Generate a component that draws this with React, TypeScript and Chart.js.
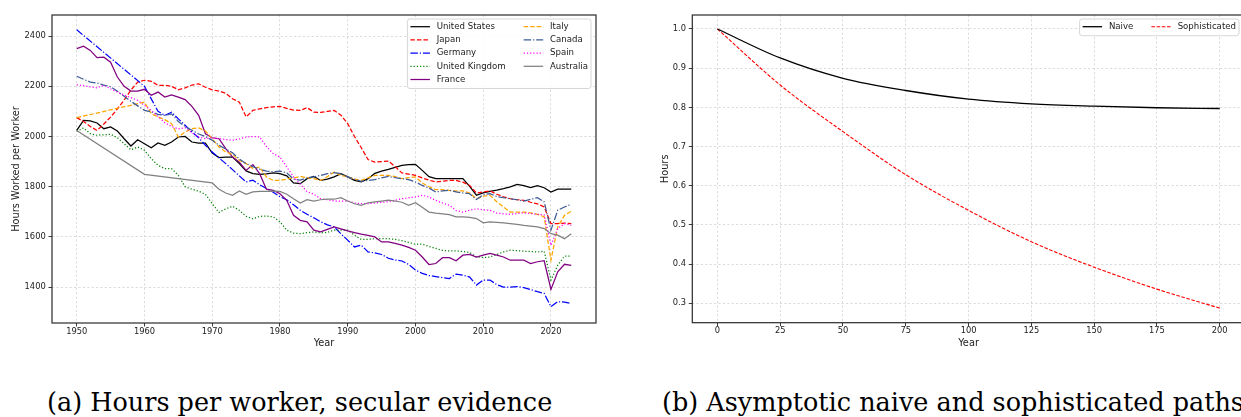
import React, { useEffect, useRef } from 'react';
import { Chart, registerables } from 'chart.js';

Chart.register(...registerables);

// ---------------- data: panel (a) ----------------
const years: number[] = Array.from({ length: 74 }, (_, i) => 1950 + i);

const unitedStates = [
  2024, 2064, 2062, 2054, 2031, 2038, 2022, 1991, 1962, 1987,
  1971, 1955, 1974, 1965, 1978, 1998, 2000, 1978, 1974, 1974,
  1934, 1916, 1918, 1918, 1892, 1863, 1852, 1849, 1851, 1855,
  1852, 1843, 1815, 1812, 1832, 1841, 1825, 1830, 1839, 1852,
  1839, 1825, 1819, 1832, 1853, 1862, 1869, 1877, 1885, 1888,
  1889, 1865, 1840, 1832, 1832, 1832, 1832, 1832, 1801, 1766,
  1775, 1781, 1786, 1792, 1799, 1809, 1804, 1796, 1804, 1796,
  1779, 1790, 1790, 1790,
];
const japan = [
  2075, 2060, 2040, 2024, 2050, 2077, 2110, 2145, 2185, 2217,
  2224, 2220, 2204, 2204, 2200, 2186, 2194, 2205, 2210, 2196,
  2186, 2181, 2172, 2150, 2137, 2078, 2104, 2110, 2115, 2118,
  2120, 2112, 2105, 2104, 2115, 2097, 2096, 2100, 2104, 2085,
  2051, 2000, 1955, 1908, 1898, 1900, 1902, 1880, 1855, 1850,
  1845, 1835, 1826, 1819, 1822, 1825, 1825, 1818, 1805, 1775,
  1779, 1783, 1770, 1760, 1752, 1748, 1746, 1738, 1732, 1719,
  1653, 1653, 1655, 1653,
];
const germany = [
  2425, null, null, null, null, null, null, null, null, null,
  2200, 2150, 2100, 2084, 2097, 2070, 2045, 2018, 1995, 1965,
  1938, 1915, 1892, 1868, 1843, 1819, 1826, 1808, 1793, 1778,
  1760, 1748, 1728, 1706, 1690, 1676, 1660, 1648, 1640, 1612,
  1587, 1560, 1567, 1540, 1536, 1530, 1515, 1508, 1504, 1490,
  1468, 1455, 1446, 1442, 1438, 1434, 1452, 1448, 1440, 1408,
  1428, 1428, 1410, 1400, 1400, 1402, 1398, 1390, 1382, 1375,
  1322, 1342, 1340, 1335,
];
const unitedKingdom = [
  2020, 2034, 2011, 2005, 2007, 2009, 1995, 1971, 1947, 1958,
  1945, 1912, 1885, 1872, 1872, 1845, 1800, 1790, 1782, 1770,
  1732, 1697, 1712, 1722, 1706, 1682, 1672, 1682, 1683, 1680,
  1660, 1627, 1615, 1613, 1617, 1620, 1616, 1618, 1627, 1627,
  1627, 1607, 1590, 1590, 1593, 1593, 1593, 1590, 1585, 1578,
  1571, 1571, 1562, 1554, 1546, 1544, 1544, 1542, 1538, 1520,
  1518, 1520, 1530, 1540, 1547, 1545, 1543, 1542, 1540, 1543,
  1428, 1487, 1523, 1523,
];
const france = [
  2350, 2360, 2343, 2314, 2316, 2296, 2237, 2200, 2181, 2181,
  2188, 2164, 2177, 2157, 2166, 2157, 2147, 2120, 2084, 2011,
  1995, 1991, 1952, 1918, 1898, 1865, 1888, 1852, 1790, 1785,
  1772, 1746, 1686, 1666, 1660, 1627, 1620, 1630, 1640, 1632,
  1624, 1617, 1611, 1606, 1600, 1580, 1580, 1574, 1567, 1558,
  1547, 1520, 1490, 1494, 1517, 1517, 1505, 1527, 1530, 1520,
  1527, 1534, 1527, 1520, 1507, 1507, 1507, 1494, 1501, 1505,
  1391, 1461, 1491, 1487,
];
const italy = [
  2075, null, null, null, null, null, null, null, null, null,
  2137, 2091, 2078, 2067, 2051, 1998, 2018, 2031, 2034, 2022,
  1991, 1958, 1938, 1929, 1905, 1892, 1872, 1878, 1839, 1825,
  1825, 1830, 1835, 1841, 1836, 1832, 1825, 1840, 1859, 1845,
  1839, 1830, 1825, 1835, 1845, 1845, 1845, 1840, 1832, 1836,
  1839, 1815, 1800, 1788, 1788, 1785, 1783, 1783, 1775, 1752,
  1762, 1766, 1740, 1719, 1699, 1699, 1699, 1696, 1690, 1680,
  1507, 1640, 1686, 1702,
];
const canada = [
  2240, 2228, 2217, 2213, 2205, 2198, 2180, 2160, 2140, 2122,
  2104, 2098, 2088, 2084, 2090, 2060, 2040, 2025, 2010, 2000,
  1985, 1965, 1950, 1935, 1910, 1892, 1880, 1870, 1862, 1860,
  1862, 1855, 1830, 1826, 1835, 1839, 1845, 1852, 1856, 1852,
  1839, 1830, 1821, 1825, 1828, 1835, 1841, 1836, 1832, 1828,
  1819, 1805, 1795, 1779, 1783, 1786, 1779, 1775, 1772, 1749,
  1768, 1772, 1761, 1756, 1752, 1748, 1743, 1750, 1756, 1740,
  1627, 1706, 1719, 1730,
];
const spain = [
  2206, 2203, 2198, 2194, 2204, 2190, 2177, 2165, 2155, 2144,
  2124, 2104, 2080, 2055, 2040, 2030, 2035, 2015, 1998, 1991,
  1995, 1991, 1988, 1985, 1990, 1998, 2000, 1998, 1960, 1932,
  1918, 1879, 1839, 1810, 1780, 1770, 1752, 1748, 1743, 1743,
  1743, 1735, 1733, 1732, 1735, 1738, 1740, 1746, 1752, 1756,
  1759, 1766, 1759, 1745, 1735, 1726, 1705, 1699, 1706, 1712,
  1708, 1706, 1695, 1692, 1690, 1693, 1696, 1693, 1690, 1688,
  1567, 1633, 1653, 1646,
];
const australia = [
  2024, null, null, null, null, null, null, null, null, null,
  1849, null, null, null, null, null, null, null, null, null,
  1815, 1790, 1775, 1766, 1783, 1770, 1779, 1781, 1781, 1782,
  1781, 1770, 1752, 1735, 1748, 1743, 1748, 1750, 1750, 1756,
  1743, 1732, 1726, 1736, 1740, 1743, 1746, 1743, 1738, 1726,
  1736, 1718, 1699, 1695, 1692, 1689, 1680, 1680, 1678, 1673,
  1656, 1660, 1658, 1656, 1653, 1650, 1646, 1643, 1640, 1633,
  1613, 1607, 1593, 1613,
];

const countryNames = [
  'United States', 'Japan', 'Germany', 'United Kingdom', 'France',
  'Italy', 'Canada', 'Spain', 'Australia',
];
const countrySeries = [
  unitedStates, japan, germany, unitedKingdom, france,
  italy, canada, spain, australia,
];
const yearTicks = [1950, 1960, 1970, 1980, 1990, 2000, 2010, 2020];
const hoursTicks = [1400, 1600, 1800, 2000, 2200, 2400];

// ---------------- data: panel (b) ----------------
const steps = [0, 25, 50, 75, 100, 125, 150, 175, 200];
const naive = [1.0, 0.926, 0.874, 0.843, 0.821, 0.809, 0.803, 0.799, 0.797];
const sophisticated = [1.0, 0.857, 0.738, 0.628, 0.537, 0.457, 0.392, 0.336, 0.2875];
const stepTicks = [0, 25, 50, 75, 100, 125, 150, 175, 200];
const shareTicks = [0.3, 0.4, 0.5, 0.6, 0.7, 0.8, 0.9, 1.0];

const captionA = '(a) Hours per worker, secular evidence';
const captionB = '(b) Asymptotic naive and sophisticated paths';

// ---------------- styles ----------------
const FONT = '"DejaVu Sans", sans-serif';
const TICK_FS = 8.3;
const LABEL_FS = 9.8;
const LEGEND_FS = 8.6;
const TEXT = '#222222';

const DASHED = [4.5, 2];
const DASHDOT = [7.5, 1.9, 1.2, 1.9];
const DOTTED = [1.2, 2];

const countryStyles = [
  { color: '#000000', dash: [] as number[] },
  { color: '#ff0000', dash: DASHED },
  { color: '#0000ff', dash: DASHDOT },
  { color: '#008000', dash: DOTTED },
  { color: '#800080', dash: [] as number[] },
  { color: '#ffa500', dash: DASHED },
  { color: '#3d5a96', dash: DASHDOT },
  { color: '#ff00ff', dash: DOTTED },
  { color: '#808080', dash: [] as number[] },
];

const framePlugin = {
  id: 'frame',
  afterDatasetsDraw(chart: any) {
    const { ctx, chartArea: a } = chart;
    ctx.save();
    ctx.strokeStyle = '#2a2a2a';
    ctx.lineWidth = 1.2;
    ctx.setLineDash([]);
    ctx.strokeRect(a.left, a.top, a.right - a.left, a.bottom - a.top);
    ctx.restore();
  },
};

const legendPlugin = {
  id: 'mplLegend',
  afterDraw(chart: any, _args: any, opts: any) {
    const { ctx, chartArea: a } = chart;
    const ds = chart.data.datasets;
    const ncol = opts.ncol || 1;
    const nrow = Math.ceil(ds.length / ncol);
    ctx.save();
    ctx.font = `${LEGEND_FS}px ${FONT}`;
    const cols: { items: any[]; w: number }[] = [];
    for (let c = 0; c < ncol; c++) {
      const items = ds.slice(c * nrow, (c + 1) * nrow);
      const w = Math.max(...items.map((d: any) => ctx.measureText(d.label).width));
      cols.push({ items, w });
    }
    const handle = 19.5;
    const textPad = 6.8;
    const colSp = 18;
    const padX = 3;
    const rowH = 13.2;
    const boxW = padX * 2 + cols.reduce((s, c) => s + handle + textPad + c.w, 0) + colSp * (ncol - 1);
    const boxH = nrow * rowH + 3.5;
    const right = a.right - opts.rightInset;
    const left = right - boxW;
    const top = a.top + 4;
    ctx.beginPath();
    ctx.roundRect(left, top, boxW, boxH, 2.5);
    ctx.fillStyle = 'rgba(255,255,255,0.85)';
    ctx.fill();
    ctx.strokeStyle = '#cccccc';
    ctx.lineWidth = 0.8;
    ctx.stroke();
    let x = left + padX;
    cols.forEach((col) => {
      col.items.forEach((d: any, r: number) => {
        const y = top + 7.7 + r * rowH;
        ctx.beginPath();
        ctx.strokeStyle = d.borderColor;
        ctx.lineWidth = d.borderWidth;
        ctx.setLineDash(d.borderDash || []);
        ctx.moveTo(x, y);
        ctx.lineTo(x + handle, y);
        ctx.stroke();
        ctx.setLineDash([]);
        ctx.fillStyle = TEXT;
        ctx.textBaseline = 'middle';
        ctx.textAlign = 'left';
        ctx.fillText(d.label, x + handle + textPad, y);
      });
      x += handle + textPad + col.w + colSp;
    });
    ctx.restore();
  },
};

function axis(opts: {
  min: number; max: number; ticks: number[]; fmt: (v: number) => string;
  title: string; size?: number; horizontal: boolean; titlePad: number;
}) {
  return {
    type: 'linear',
    min: opts.min,
    max: opts.max,
    afterBuildTicks: (s: any) => { s.ticks = opts.ticks.map((v) => ({ value: v })); },
    afterFit: (s: any) => {
      if (opts.horizontal) s.height = opts.size; else s.width = opts.size;
    },
    ticks: {
      autoSkip: false,
      maxRotation: 0,
      padding: opts.horizontal ? 0 : 2.8,
      color: TEXT,
      font: { family: FONT, size: TICK_FS },
      callback: (v: any) => opts.fmt(Number(v)),
    },
    grid: {
      color: '#d2d2d2',
      lineWidth: 0.8,
      tickColor: TEXT,
      tickLength: 3.5,
      tickWidth: 0.9,
      tickBorderDash: [],
    },
    border: { display: false, dash: [2.2, 2.2] },
    title: {
      display: true,
      text: opts.title,
      color: TEXT,
      font: { family: FONT, size: LABEL_FS },
      padding: opts.horizontal ? { top: 0, bottom: opts.titlePad } : { top: opts.titlePad, bottom: 0 },
    },
  };
}

export default function App() {
  const leftRef = useRef<HTMLCanvasElement>(null);
  const rightRef = useRef<HTMLCanvasElement>(null);

  useEffect(() => {
    const n = countrySeries.length;
    const left = new Chart(leftRef.current as HTMLCanvasElement, {
      type: 'line',
      data: {
        datasets: countrySeries.map((series, i) => ({
          label: countryNames[i],
          data: series.map((v, j) => ({ x: years[j], y: v })),
          borderColor: countryStyles[i].color,
          borderDash: countryStyles[i].dash,
          borderWidth: 1.25,
          pointRadius: 0,
          tension: 0,
          spanGaps: true,
          fill: false,
          order: n - i,
        })),
      },
      options: {
        animation: false,
        responsive: false,
        devicePixelRatio: 1,
        layout: { padding: { left: 0, top: 15, right: 24, bottom: 0 } },
        plugins: {
          legend: { display: false },
          tooltip: { enabled: false },
          mplLegend: { ncol: 2, rightInset: 5 },
        } as any,
        scales: {
          x: axis({ min: 1946.35, max: 2026.65, ticks: yearTicks, fmt: (v) => String(v), title: 'Year', size: 37, horizontal: true, titlePad: 10.8 }) as any,
          y: axis({ min: 1257, max: 2484, ticks: hoursTicks, fmt: (v) => String(v), title: 'Hours Worked per Worker', size: 52, horizontal: false, titlePad: 10.7 }) as any,
        },
      },
      plugins: [framePlugin, legendPlugin],
    });

    const right = new Chart(rightRef.current as HTMLCanvasElement, {
      type: 'line',
      data: {
        datasets: [
          {
            label: 'Naive',
            data: steps.map((t, j) => ({ x: t, y: naive[j] })),
            borderColor: '#000000',
            borderDash: [],
            borderWidth: 1.3,
            pointRadius: 0,
            cubicInterpolationMode: 'monotone',
            fill: false,
          },
          {
            label: 'Sophisticated',
            data: steps.map((t, j) => ({ x: t, y: sophisticated[j] })),
            borderColor: '#ff0000',
            borderDash: [3.6, 1.6],
            borderWidth: 1.1,
            pointRadius: 0,
            cubicInterpolationMode: 'monotone',
            fill: false,
          },
        ],
      },
      options: {
        animation: false,
        responsive: false,
        devicePixelRatio: 1,
        layout: { padding: { left: 0, top: 15, right: 15.2, bottom: 0 } },
        plugins: {
          legend: { display: false },
          tooltip: { enabled: false },
          mplLegend: { ncol: 2, rightInset: 5.8 },
        } as any,
        scales: {
          x: axis({ min: -10, max: 210, ticks: stepTicks, fmt: (v) => String(v), title: 'Year', size: 37.3, horizontal: true, titlePad: 10.8 }) as any,
          y: axis({ min: 0.2503, max: 1.0357, ticks: shareTicks, fmt: (v) => v.toFixed(1), title: 'Hours', size: 72.3, horizontal: false, titlePad: 39.7 }) as any,
        },
      },
      plugins: [framePlugin, legendPlugin],
    });

    return () => {
      left.destroy();
      right.destroy();
    };
  }, []);

  const caption: React.CSSProperties = {
    position: 'absolute',
    top: 389.5,
    fontFamily: '"DejaVu Serif", serif',
    fontSize: 25.5,
    lineHeight: '25.5px',
    color: '#000',
    whiteSpace: 'nowrap',
  };

  return (
    <div style={{ position: 'absolute', left: 0, top: 0, width: 1241, height: 417, overflow: 'hidden', background: '#fff' }}>
      <canvas ref={leftRef} width={620} height={360} style={{ position: 'absolute', left: 0, top: 0, width: 620, height: 360 }} />
      <canvas ref={rightRef} width={640} height={360} style={{ position: 'absolute', left: 620, top: 0, width: 640, height: 360 }} />
      <div style={{ ...caption, left: 47 }}>{captionA}</div>
      <div style={{ ...caption, left: 662 }}>{captionB}</div>
    </div>
  );
}
